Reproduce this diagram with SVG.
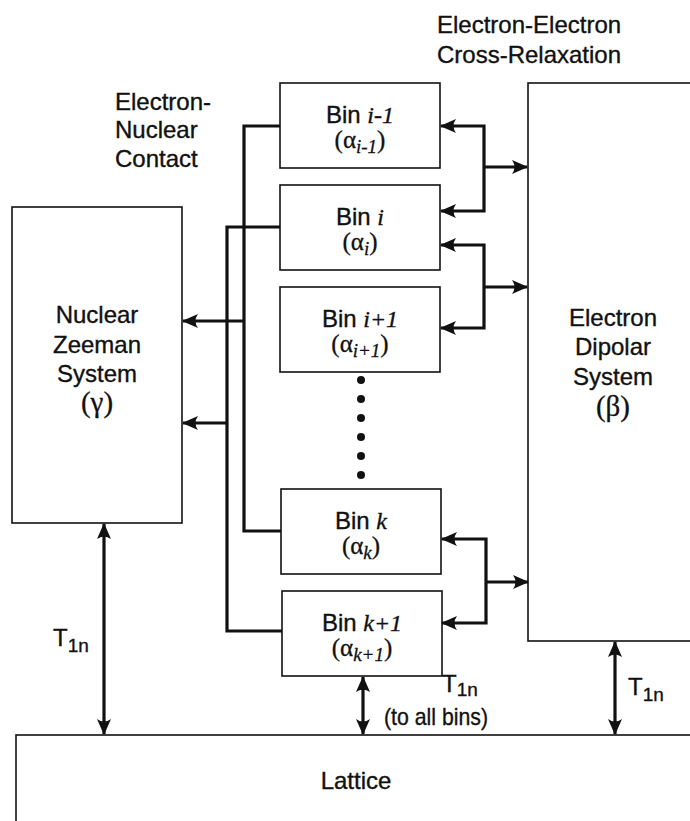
<svg xmlns="http://www.w3.org/2000/svg" width="690" height="821" viewBox="0 0 690 821">
<style>
  .box { fill: #fff; stroke: #111; stroke-width: 1.6; }
  .t { font-family: "Liberation Sans", Arial, sans-serif; font-size: 24px; fill: #111; stroke: #111; stroke-width: 0.35; }
  .s { font-family: "Liberation Serif", "Times New Roman", serif; fill: #111; stroke: #111; stroke-width: 0.3; }
  .it { font-family: "Liberation Serif", "Times New Roman", serif; font-style: italic; }
  .c { fill: none; stroke: #111; stroke-width: 3.2; }
  .a { marker-end: url(#ah); }
  .aa { marker-start: url(#ah); marker-end: url(#ah); }
</style>
<defs>
  <marker id="ah" markerUnits="userSpaceOnUse" markerWidth="17" markerHeight="15" viewBox="0 0 17 15" refX="15" refY="7.5" orient="auto-start-reverse">
    <path d="M0,0.5 L16,7.5 L0,14.5 Q5,7.5 0,0.5 Z" fill="#111"/>
  </marker>
</defs>
<rect width="690" height="821" fill="#fff"/>

<g id="title-ee">
  <text class="t" x="437" y="33">Electron-Electron</text>
  <text class="t" x="437" y="63">Cross-Relaxation</text>
</g>
<g id="title-en">
  <text class="t" x="115" y="110">Electron-</text>
  <text class="t" x="115" y="138">Nuclear</text>
  <text class="t" x="115" y="167">Contact</text>
</g>

<g id="nuclear">
  <rect class="box" x="12" y="207" width="170" height="316"/>
  <text class="t" x="97" y="323" text-anchor="middle">Nuclear</text>
  <text class="t" x="97" y="353" text-anchor="middle">Zeeman</text>
  <text class="t" x="97" y="382" text-anchor="middle">System</text>
  <text class="s" x="97" y="412" text-anchor="middle" font-size="29">(γ)</text>
</g>

<g id="dipolar">
  <rect class="box" x="528" y="83" width="200" height="558"/>
  <text class="t" x="613" y="326" text-anchor="middle">Electron</text>
  <text class="t" x="613" y="355" text-anchor="middle">Dipolar</text>
  <text class="t" x="613" y="385" text-anchor="middle">System</text>
  <text class="s" x="613" y="416" text-anchor="middle" font-size="29">(β)</text>
</g>

<g id="lattice">
  <rect class="box" x="16" y="735" width="700" height="120"/>
  <text class="t" x="356" y="789" text-anchor="middle">Lattice</text>
</g>

<g id="bin-i-1">
  <rect class="box" x="280" y="83" width="160" height="85"/>
  <text class="t" x="360" y="123" text-anchor="middle">Bin <tspan class="it">i-1</tspan></text>
  <text class="s" x="360" y="148" text-anchor="middle" font-size="25">(α<tspan class="it" font-size="19" dy="5">i-1</tspan><tspan dy="-5">)</tspan></text>
</g>
<g id="bin-i">
  <rect class="box" x="280" y="185" width="160" height="85"/>
  <text class="t" x="360" y="225" text-anchor="middle">Bin <tspan class="it">i</tspan></text>
  <text class="s" x="360" y="250" text-anchor="middle" font-size="25">(α<tspan class="it" font-size="19" dy="5">i</tspan><tspan dy="-5">)</tspan></text>
</g>
<g id="bin-i+1">
  <rect class="box" x="280" y="287" width="160" height="85"/>
  <text class="t" x="360" y="327" text-anchor="middle">Bin <tspan class="it">i+1</tspan></text>
  <text class="s" x="360" y="352" text-anchor="middle" font-size="25">(α<tspan class="it" font-size="19" dy="5">i+1</tspan><tspan dy="-5">)</tspan></text>
</g>
<g id="ellipsis" fill="#111">
  <circle cx="361" cy="380" r="4"/>
  <circle cx="361" cy="399" r="4"/>
  <circle cx="361" cy="418" r="4"/>
  <circle cx="361" cy="437" r="4"/>
  <circle cx="361" cy="456" r="4"/>
  <circle cx="361" cy="475" r="4"/>
</g>
<g id="bin-k">
  <rect class="box" x="281" y="489" width="160" height="85"/>
  <text class="t" x="361" y="529" text-anchor="middle">Bin <tspan class="it">k</tspan></text>
  <text class="s" x="361" y="554" text-anchor="middle" font-size="25">(α<tspan class="it" font-size="19" dy="5">k</tspan><tspan dy="-5">)</tspan></text>
</g>
<g id="bin-k+1">
  <rect class="box" x="282" y="591" width="160" height="85"/>
  <text class="t" x="362" y="631" text-anchor="middle">Bin <tspan class="it">k+1</tspan></text>
  <text class="s" x="362" y="656" text-anchor="middle" font-size="25">(α<tspan class="it" font-size="19" dy="5">k+1</tspan><tspan dy="-5">)</tspan></text>
</g>

<g id="connectors">
  <path class="c" d="M280,126 H244 V531 H281"/>
  <path class="c" d="M280,227 H227 V631 H282"/>
  <path class="c a" d="M244,321 H183"/>
  <path class="c a" d="M227,423 H183"/>
  <path class="c aa" d="M441,126 H484 V211 H441"/>
  <path class="c a" d="M484,167 H527"/>
  <path class="c aa" d="M441,245 H484 V328 H441"/>
  <path class="c a" d="M484,287 H527"/>
  <path class="c aa" d="M442,539 H486 V623 H442"/>
  <path class="c a" d="M486,582 H528"/>
  <path class="c aa" d="M104,524 V734"/>
  <path class="c aa" d="M363,677 V734"/>
  <path class="c aa" d="M615,642 V734"/>
</g>

<g id="labels-t1n">
  <text class="t" x="53" y="646">T<tspan font-size="19" dy="6">1n</tspan></text>
  <text class="t" x="442" y="692">T<tspan font-size="19" dy="4">1n</tspan></text>
  <text class="t" x="384" y="725" font-size="20" textLength="104" lengthAdjust="spacingAndGlyphs">(to all bins)</text>
  <text class="t" x="628" y="695">T<tspan font-size="19" dy="6">1n</tspan></text>
</g>
</svg>
